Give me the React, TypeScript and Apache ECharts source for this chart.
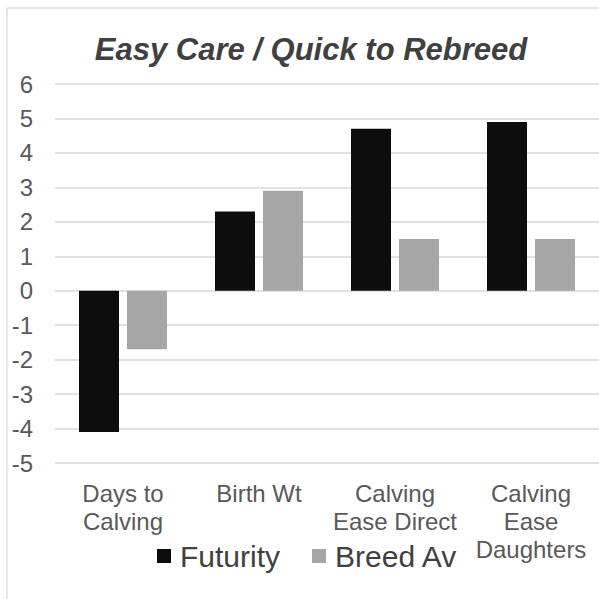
import React, { useEffect, useRef } from "react";
import * as echarts from "echarts";

const categories = ["Days to\nCalving", "Birth Wt", "Calving\nEase Direct", "Calving\nEase\nDaughters"];
const futurity = [-4.1, 2.3, 4.7, 4.9];
const breedAv = [-1.7, 2.9, 1.5, 1.5];
const seriesNames = ["Futurity", "Breed Av"];
const titleText = "Easy Care / Quick to Rebreed";

export default function App() {
  const ref = useRef<HTMLDivElement>(null);
  useEffect(() => {
    if (!ref.current) return;
    const chart = echarts.init(ref.current, undefined, { renderer: "svg" });
    const font = "'Liberation Sans', Arial, sans-serif";
    chart.setOption({
      animation: false,
      backgroundColor: "#ffffff",
      title: {
        text: titleText,
        left: 306,
        textAlign: "center",
        top: 29,
        textStyle: {
          fontFamily: font,
          fontSize: 31,
          fontWeight: "bold",
          fontStyle: "italic",
          color: "#404040",
        },
      },
      graphic: [
        {
          type: "rect",
          shape: { x: 7, y: 8, width: 700, height: 700 },
          style: { fill: "none", stroke: "#d0d0d0", lineWidth: 1 },
          silent: true,
        },
      ],
      legend: {
        data: seriesNames,
        left: 152,
        top: 536,
        itemWidth: 14,
        itemHeight: 14,
        itemGap: 32,
        icon: "rect",
        textStyle: { fontFamily: font, fontSize: 30, color: "#404040", padding: [0, 0, 0, 4] },
      },
      grid: { left: 55, right: -4, top: 84, bottom: 136, containLabel: false },
      xAxis: {
        type: "category",
        data: categories,
        axisLine: { show: false },
        axisTick: { show: false },
        axisLabel: {
          interval: 0,
          fontFamily: font,
          fontSize: 24,
          lineHeight: 28,
          color: "#595959",
          margin: 16,
        },
      },
      yAxis: {
        type: "value",
        min: -5,
        max: 6,
        interval: 1,
        axisLine: { show: false },
        axisTick: { show: false },
        axisLabel: { fontFamily: font, fontSize: 24, color: "#595959", margin: 22 },
        splitLine: { lineStyle: { color: "#d9d9d9", width: 1.5 } },
      },
      series: [
        {
          name: seriesNames[0],
          type: "bar",
          data: futurity,
          barWidth: 40,
          barGap: "20%",
          itemStyle: { color: "#0d0d0d" },
        },
        {
          name: seriesNames[1],
          type: "bar",
          data: breedAv,
          barWidth: 40,
          itemStyle: { color: "#a6a6a6" },
        },
      ],
    });
    return () => chart.dispose();
  }, []);
  return (
    <div
      ref={ref}
      style={{ position: "absolute", left: 0, top: 0, width: 599, height: 599 }}
    />
  );
}
